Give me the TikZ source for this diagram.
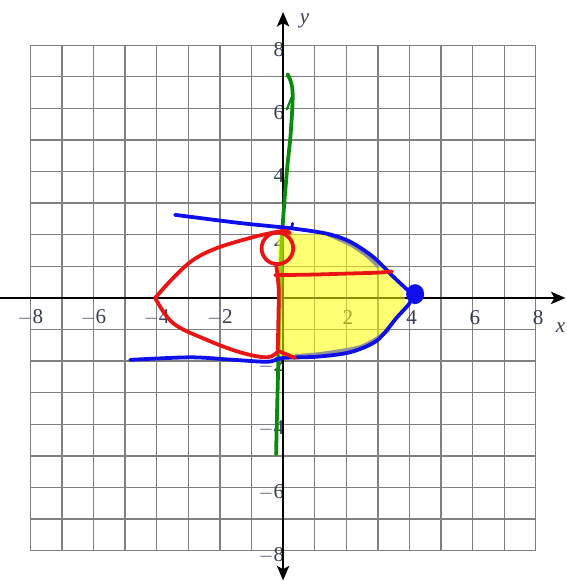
\documentclass[tikz,border=0pt]{standalone}
\usepackage{fontspec}
\setmainfont{Liberation Serif}
\usepackage{tikz}
\usetikzlibrary{arrows.meta}
\definecolor{penblue}{RGB}{15,15,235}
\definecolor{penred}{RGB}{235,20,20}
\definecolor{pengreen}{RGB}{10,140,10}
\definecolor{hilite}{RGB}{255,255,0}
\definecolor{ticktext}{RGB}{55,62,88}

\begin{document}
\begin{tikzpicture}[gridline/.style={line width=1.2pt, gray},
            axisline/.style={line width=2.3pt, black, {Stealth[length=13pt,width=11pt,inset=3pt]}-{Stealth[length=13pt,width=11pt,inset=3pt]}},
            pen/.style={line width=3.4pt, line cap=round, line join=round},
            every node/.style={text=ticktext, font=\fontsize{19}{21}\selectfont, inner sep=0pt}]
            \useasboundingbox (-8.96,-8.96) rectangle (8.96,9.43);

            \draw[gridline] (-8,-8) grid (8,8);

            % tick labels
            \node (xa) at (-8.0,-0.62) {$-$8};
            \node (xb) at (-6.0,-0.62) {$-$6};
            \node (xc) at (-4.0,-0.62) {$-$4};
            \node (xd) at (-2.0,-0.62) {$-$2};
            \node (xe) at (2.05,-0.62) {2};
            \node (xf) at (4.07,-0.62) {4};
            \node (xg) at (6.07,-0.62) {6};
            \node (xh) at (8.07,-0.62) {8};
            \node[anchor=east] (ya) at (0.04,7.86) {8};
            \node[anchor=east] (yb) at (0.04,5.86) {6};
            \node[anchor=east] (yc) at (0.04,3.86) {4};
            \node[anchor=east] (yd) at (0.04,1.86) {2};
            \node[anchor=east] (ye) at (0.04,-2.14) {$-$2};
            \node[anchor=east] (yf) at (0.04,-4.14) {$-$4};
            \node[anchor=east] (yg) at (0.04,-6.14) {$-$6};
            \node[anchor=east] (yh) at (0.04,-8.14) {$-$8};
            \node (xlab) at (8.78,-0.95) {\itshape x};
            \node (ylab) at (0.68,8.78) {\itshape y};

            % axes
            \coordinate (west) at (-9.5,0);
            \coordinate (east) at (8.94,0);
            \coordinate (north) at (0,9.05);
            \coordinate (south) at (0,-8.94);
            \draw[axisline] (west) -- (east);
            \draw[axisline] (south) -- (north);

            % green stroke
            \draw[pen, pengreen] plot[smooth, tension=0.6] coordinates {(0.14,7.08) (0.3,6.55) (0.24,5.2) (0.12,4.0) (-0.03,2.0) (-0.1,0.0) (-0.15,-2.0) (-0.2,-4.0) (-0.22,-4.95)};
            \draw[pen, pengreen, line width=2pt] (0.12,5.97) -- (0.27,6.35);

            % highlighter
            \fill[hilite, opacity=0.55] plot[smooth cycle, tension=0.55] coordinates {(-0.14,1.95) (0.6,2.02) (1.4,2.0) (2.3,1.65) (3.05,1.08) (3.62,0.5) (3.86,-0.05) (3.72,-0.5) (3.35,-1.02) (2.55,-1.48) (1.5,-1.72) (0.5,-1.8) (-0.14,-1.78) (-0.16,0)};
            \draw[pen, gray!85] plot[smooth] coordinates {(1.45,2.0) (2.15,1.68) (2.7,1.3) (3.0,1.0)};
            \draw[pen, gray!85] plot[smooth] coordinates {(0.4,-1.84) (1.1,-1.78) (1.8,-1.68) (2.45,-1.55) (2.95,-1.3) (3.35,-1.0)};

            % blue curve
            \draw[pen, penblue] plot[smooth, tension=0.5] coordinates {(-3.42,2.63) (-1.36,2.37) (0.28,2.2) (1.4,2.03) (2.12,1.78) (2.85,1.3) (3.48,0.68) (3.95,0.24) (4.12,0.08)};
            \draw[pen, penblue] plot[smooth, tension=0.5] coordinates {(4.12,0.08) (3.98,-0.2) (3.6,-0.62) (2.97,-1.35) (2.12,-1.72) (1.07,-1.86) (0.0,-1.9) (-0.5,-2.02) (-1.7,-1.95) (-2.94,-1.88) (-4.84,-1.96)};
            \draw[pen, penblue, line width=2.5pt] (0.27,2.21) -- (0.3,2.36);
            \fill[penblue] (4.18,0.12) ellipse (0.24 and 0.27);
            \draw[pen, penblue, line width=2.5pt] (4.18,0.12) ellipse (0.24 and 0.27);

            % red curves
            \draw[pen, penred] plot[smooth, tension=0.6] coordinates {(-4.05,0.0) (-3.48,0.63) (-2.85,1.2) (-2.09,1.58) (-1.04,1.9) (-0.4,2.05) (0.05,2.12) (0.22,2.05)};
            \draw[pen, penred] plot[smooth, tension=0.6] coordinates {(-4.05,0.0) (-3.48,-0.8) (-2.41,-1.33) (-1.36,-1.72) (-0.5,-1.88) (-0.15,-1.68)} -- (0.38,-1.9);
            \draw[pen, penred] (-0.18,1.57) ellipse (0.5 and 0.5);
            \draw[pen, penred] plot[smooth] coordinates {(-0.22,1.07) (-0.14,0.3) (-0.15,-0.8) (-0.17,-1.68)};
            \draw[pen, penred] plot[smooth] coordinates {(-0.25,0.72) (1.0,0.74) (2.0,0.77) (3.0,0.8) (3.45,0.84)};
        \end{tikzpicture}
\end{document}
